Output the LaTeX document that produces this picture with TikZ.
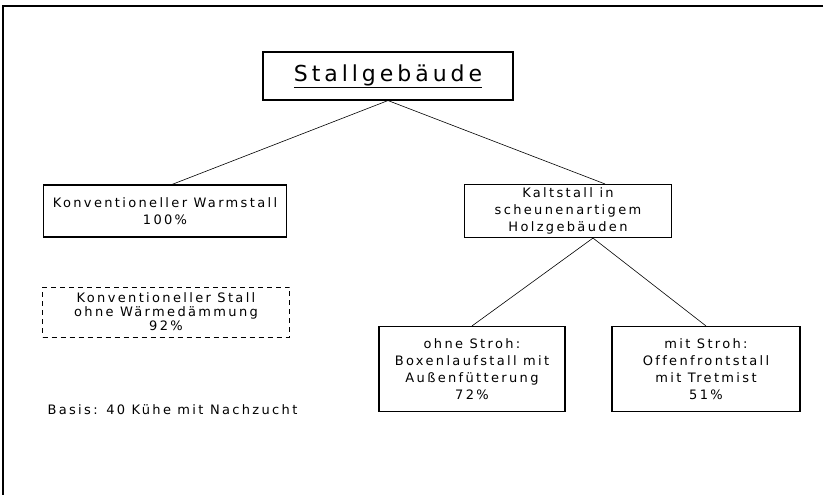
\documentclass[tikz,border=0pt]{standalone}
\usepackage{fontspec}
\setmainfont{DejaVu Sans}[LetterSpace=18, Ligatures=NoCommon]
\begin{document}
\begin{tikzpicture}[x=1pt,y=-1pt,
	box/.style={draw, line width=1.1pt, align=center, inner sep=0pt,
		font=\fontsize{13}{17}\selectfont},
	dashbox/.style={box, dash pattern=on 5pt off 4pt, line width=0.9pt,
		font=\fontsize{13}{14}\selectfont},
	link/.style={line width=0.6pt}]
\useasboundingbox (0,0) rectangle (825,495);
% frame (top and left only)
\draw[line width=1.2pt] (823,6) -- (3,6) -- (3,495);

\node[box, minimum width=250pt, minimum height=48pt,
	font=\fontsize{22}{24}\selectfont] (stall) at (388,76)
	{\underline{Stallgebäude}};

\node[box, minimum width=243pt, minimum height=52pt] (warm) at (165,211)
	{Konventioneller Warmstall\\100\%};
\node[box, minimum width=207pt, minimum height=53pt] (kalt) at (568,211)
	{Kaltstall in\\scheunenartigem\\Holzgebäuden};
\node[dashbox, minimum width=247pt, minimum height=50pt] (ohnedaemm) at (166,312)
	{Konventioneller Stall\\ohne Wärmedämmung\\92\%};
\node[box, minimum width=186pt, minimum height=85pt] (ohnestroh) at (472,369)
	{ohne Stroh:\\Boxenlaufstall mit\\Außenfütterung\\72\%};
\node[box, minimum width=188pt, minimum height=85pt] (mitstroh) at (706,369)
	{mit Stroh:\\Offenfrontstall\\mit Tretmist\\51\%};

\node[anchor=west, font=\fontsize{13}{17}\selectfont] (basis) at (44,410)
	{Basis: 40 Kühe mit Nachzucht};

\draw[link] (stall.south) -- ([xshift=7pt]warm.north);
\draw[link] (stall.south) -- ([xshift=37pt]kalt.north);
\draw[link] ([xshift=25pt]kalt.south) -- (ohnestroh.north);
\draw[link] ([xshift=25pt]kalt.south) -- (mitstroh.north);
\end{tikzpicture}
\end{document}
